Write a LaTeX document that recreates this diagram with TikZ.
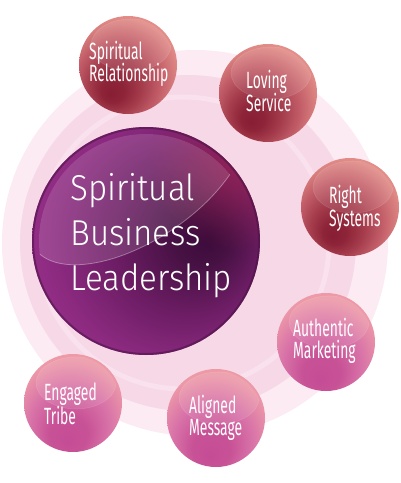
\documentclass[tikz,border=0pt]{standalone}
\usepackage{fontspec}
\setmainfont{Fira Sans}
\newfontfamily\bigfont{Fira Sans Light}[FakeStretch=0.92]
\newfontfamily\smallfont{Fira Sans}[FakeStretch=0.59]
\usetikzlibrary{fadings}
\definecolor{ringA}{HTML}{FCEBF3}
\definecolor{ringB}{HTML}{F7D8E7}
\definecolor{ringC}{HTML}{F9E1ED}
\definecolor{rbA}{HTML}{861E34}
\definecolor{rbB}{HTML}{8E2438}
\definecolor{rbC}{HTML}{A63E4E}
\definecolor{rbD}{HTML}{C4606A}
\definecolor{rbE}{HTML}{E08A86}
\definecolor{rbF}{HTML}{F2A49C}
\definecolor{pbA}{HTML}{C44C96}
\definecolor{pbB}{HTML}{C85296}
\definecolor{pbC}{HTML}{D872A8}
\definecolor{pbD}{HTML}{EC98A8}
\definecolor{pbE}{HTML}{F2A39E}
\definecolor{mbA}{HTML}{3A0B3A}
\definecolor{mbB}{HTML}{461143}
\definecolor{mbC}{HTML}{6A1C62}
\definecolor{mbD}{HTML}{8C2A80}
\definecolor{mbE}{HTML}{9E348E}
\definecolor{crimson}{HTML}{9A2450}
\definecolor{rimcol}{HTML}{4A1245}
\pgfdeclareradialshading{redball}{\pgfpoint{-9bp}{-15bp}}{color(0bp)=(rbA); color(6bp)=(rbB); color(14bp)=(rbC); color(22bp)=(rbD); color(30bp)=(rbE); color(38bp)=(rbF); color(50bp)=(rbF)}
\pgfdeclareradialshading{pinkball}{\pgfpoint{-3bp}{-20bp}}{color(0bp)=(pbA); color(10bp)=(pbB); color(20bp)=(pbC); color(30bp)=(pbD); color(40bp)=(pbE); color(50bp)=(pbE)}
\pgfdeclareradialshading{mainball}{\pgfpoint{14bp}{1bp}}{color(0bp)=(mbA); color(6bp)=(mbB); color(16bp)=(mbC); color(27bp)=(mbD); color(36bp)=(mbE); color(50bp)=(mbE)}
\tikzfading[name=crimsonfade, inner color=transparent!25, outer color=transparent!100]
\tikzset{
  smallball/.style={circle, inner sep=0pt, minimum size=98pt},
  redb/.style={smallball, shading=redball},
  pinkb/.style={smallball, shading=pinkball},
  bigball/.style={circle, inner sep=0pt, minimum size=228pt, shading=mainball},
  smalltxt/.style={text=white, inner sep=0pt, anchor=base west, font=\smallfont\fontsize{23.5}{24}\selectfont},
  bigtxt/.style={text=white, inner sep=0pt, anchor=base west, font=\bigfont\fontsize{36}{40}\selectfont}
}
\newcommand\ballgloss[2]{%
  \begin{scope}
    \clip (#1,#2) circle (47);
    \fill[white, opacity=0.1] (#1+3,#2-20) ellipse [x radius=40, y radius=26];
    \draw[white, opacity=0.12, line width=0.6pt] (#1+3,#2-20) ellipse [x radius=40, y radius=26];
  \end{scope}}
\begin{document}
\begin{tikzpicture}[x=1pt,y=-1pt]
\useasboundingbox (0,0) rectangle (400,483);
% background rings
\fill[ringA] (195,243) circle (193);
\fill[ringB] (188,243) circle (168);
\draw[ringC, line width=5pt] (183,243) circle (146);
% main circle
\node[bigball] (main) at (146,241) {};
\begin{scope}
  \clip (146,241) circle (114);
  \fill[crimson, path fading=crimsonfade] (238,162) circle (90);
\end{scope}
\begin{scope}
  \clip (146,241) circle (107);
  \fill[white, opacity=0.13, rotate around={34:(138,178)}] (138,178) ellipse [x radius=125, y radius=62];
  \draw[white, opacity=0.35, line width=0.8pt, rotate around={34:(138,178)}] (138,178) ellipse [x radius=125, y radius=62];
\end{scope}
\draw[rimcol, opacity=0.55, line width=2pt] (146,241) circle (113);
% small balls
\node[redb] (sr) at (128,65) {};
\node[redb] (ls) at (268,93) {};
\node[redb] (rs) at (350,207) {};
\node[pinkb] (am) at (326,342) {};
\node[pinkb] (amsg) at (216,418) {};
\node[pinkb] (et) at (73,403) {};
\ballgloss{128}{65}
\ballgloss{268}{93}
\ballgloss{350}{207}
\ballgloss{326}{342}
\ballgloss{216}{418}
\ballgloss{73}{403}
% texts
\node[bigtxt] (m1) at (70,200) {Spiritual};
\node[bigtxt] (m2) at (70,245) {Business};
\node[bigtxt] (m3) at (70,290) {Leadership};
\node[smalltxt] (sr1) at (89,59) {Spiritual};
\node[smalltxt] (sr2) at (89,81) {Relationship};
\node[smalltxt] (ls1) at (246,88) {Loving};
\node[smalltxt] (ls2) at (246,111) {Service};
\node[smalltxt] (rs1) at (329,203) {Right};
\node[smalltxt] (rs2) at (329,226) {Systems};
\node[smalltxt] (am1) at (293,336) {Authentic};
\node[smalltxt] (am2) at (293,358) {Marketing};
\node[smalltxt] (et1) at (44,400) {Engaged};
\node[smalltxt] (et2) at (44,424) {Tribe};
\node[smalltxt] (al1) at (189,413) {Aligned};
\node[smalltxt] (al2) at (189,435) {Message};
\end{tikzpicture}
\end{document}
